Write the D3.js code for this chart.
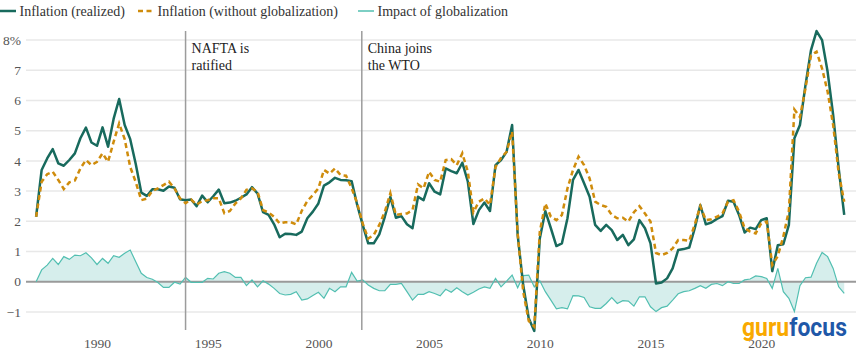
<!DOCTYPE html>
<html><head><meta charset="utf-8">
<script src="https://cdn.jsdelivr.net/npm/d3@7"></script>
<style>
html,body{margin:0;padding:0;background:#fff;}
svg{display:block;font-family:"Liberation Serif","Times New Roman",serif;}
</style></head>
<body><svg id="c" width="856" height="356"></svg>
<script>
// ---- data (quarterly, first quarter 1987 Q2) ----
const firstQuarter = 1987.25;
const realized = [2.15,3.7,4.08,4.39,3.92,3.84,4.03,4.25,4.75,5.1,4.61,4.5,5.11,4.47,5.39,6.05,5.19,4.72,3.9,2.95,
2.84,3.06,3.06,3.01,3.15,3.11,2.73,2.7,2.72,2.5,2.85,2.63,2.83,3.05,2.6,2.62,2.68,2.78,2.89,3.13,
2.92,2.3,2.21,1.9,1.47,1.59,1.58,1.55,1.66,2.1,2.32,2.59,3.18,3.29,3.44,3.37,3.36,3.33,2.55,1.88,
1.27,1.27,1.57,2.15,2.81,2.12,2.17,1.9,1.77,2.81,2.7,3.26,2.98,2.89,3.75,3.66,3.59,3.94,3.31,1.91,
2.37,2.62,2.34,3.86,4.03,4.3,5.19,1.55,-0.11,-1.21,-1.63,1.43,2.34,1.77,1.18,1.27,2.1,3.37,3.7,3.26,
2.81,1.88,1.68,1.88,1.71,1.38,1.55,1.21,1.4,2.04,1.77,1.27,-0.06,-0.03,0.11,0.44,1.05,1.08,1.13,1.77,
2.54,1.9,1.96,2.08,2.17,2.68,2.65,2.21,1.63,1.79,1.74,2.04,2.1,0.35,1.21,1.24,1.88,4.75,5.19,6.51,
7.67,8.3,8.0,6.95,5.52,3.75,2.21];
const withoutGlobalization = [2.15,3.31,3.56,3.64,3.37,3.07,3.29,3.35,3.75,4.03,3.86,3.97,4.25,3.97,4.63,5.24,4.72,3.8,3.3,2.7,
2.75,3.01,3.09,3.2,3.31,3.09,2.76,2.6,2.72,2.55,2.67,2.7,2.76,2.76,2.27,2.34,2.59,2.76,3.04,3.09,
2.98,2.37,2.29,2.15,1.93,1.97,1.97,1.9,2.35,2.67,2.87,3.09,3.7,3.58,3.75,3.53,3.51,3.1,2.6,1.93,
1.43,1.55,1.88,2.32,2.93,2.21,2.24,2.26,2.37,3.22,3.09,3.64,3.37,3.31,4.03,4.06,3.86,4.25,3.64,2.3,
2.65,2.76,2.54,3.8,4.1,4.3,4.97,1.6,-0.33,-1.3,-1.49,1.66,2.59,2.15,2.04,2.21,3.09,3.7,4.14,3.86,
3.42,2.65,2.54,2.48,2.21,2.1,2.12,1.99,2.3,2.5,2.26,1.99,0.95,0.88,0.95,1.1,1.38,1.38,1.35,1.9,
2.5,2.04,2.07,2.15,2.26,2.65,2.7,2.32,1.77,1.66,1.6,1.93,1.99,0.55,0.85,1.5,2.35,5.7,5.45,6.4,
7.5,7.62,7.06,6.29,5.19,3.6,2.65];
const impact = [0,0.39,0.55,0.77,0.57,0.83,0.74,0.88,0.86,0.96,0.79,0.57,0.77,0.61,0.86,0.81,0.94,1.05,0.66,0.28,
0.14,0.08,-0.03,-0.19,-0.19,-0.02,-0.08,0.14,-0.02,-0.02,-0.02,0.11,0.09,0.28,0.33,0.28,0.14,0.14,-0.13,0.06,
-0.17,0.03,-0.08,-0.22,-0.39,-0.44,-0.42,-0.33,-0.61,-0.57,-0.46,-0.35,-0.55,-0.22,-0.33,-0.17,-0.17,0.31,0.02,0.06,
-0.11,-0.22,-0.3,-0.3,-0.09,-0.09,-0.06,-0.33,-0.61,-0.42,-0.42,-0.33,-0.39,-0.47,-0.25,-0.35,-0.2,-0.33,-0.44,-0.35,
-0.24,-0.17,-0.22,0.11,-0.17,0.02,0.22,-0.2,0.2,0.22,-0.17,0.03,-0.33,-0.61,-0.9,-0.86,-0.9,-0.46,-0.47,-0.52,
-0.83,-0.88,-0.88,-0.72,-0.53,-0.72,-0.63,-0.64,-0.81,-0.5,-0.5,-0.83,-0.99,-0.86,-0.81,-0.61,-0.4,-0.33,-0.3,-0.22,
-0.13,-0.22,-0.09,-0.06,-0.13,0,-0.06,-0.06,0.06,0.09,0.19,0.17,0.11,-0.22,0.44,-0.33,-0.55,-0.99,-0.13,0.13,
0.15,0.61,0.97,0.83,0.44,-0.17,-0.39];
const yTicks = [-1,0,1,2,3,4,5,6,7,8];
const xTicks = [1990,1995,2000,2005,2010,2015,2020];
const events = [{year:1994.0, lines:["NAFTA is","ratified"]},{year:2001.96, lines:["China joins","the WTO"]}];
const legendItems = ["Inflation (realized)","Inflation (without globalization)","Impact of globalization"];

// ---- layout ----
const svg = d3.select("#c");
const x = d3.scaleLinear().domain([1990, 2020]).range([97, 761.2]);
const y = d3.scaleLinear().domain([-1, 8]).range([311.9, 40.1]);
const t = realized.map((_, i) => firstQuarter + i / 4);
const gridX0 = 26, gridX1 = 856;
const C = {solid:"#186a5d", dash:"#cf8c0c", imp:"#52bfb1", area:"#d6eeec", grid:"#e8e8e8", zero:"#9a9a9a", ev:"#9c9c9c"};

// gridlines
svg.append("g").selectAll("line").data(yTicks.filter(d => d !== 0)).join("line")
  .attr("x1", gridX0).attr("x2", gridX1).attr("y1", d => y(d)).attr("y2", d => y(d))
  .attr("stroke", C.grid).attr("stroke-width", 1.5);

// y labels
svg.append("g").selectAll("text").data(yTicks).join("text")
  .attr("x", 21).attr("y", d => y(d)).attr("dy", "0.35em").attr("text-anchor", "end")
  .attr("font-size", 13.5).attr("fill", "#555")
  .text(d => d === 8 ? "8%" : (d < 0 ? "\u2212" + Math.abs(d) : d));

// x labels
const xAxis = d3.axisBottom(x).tickValues(xTicks).tickFormat(d3.format("d")).tickSize(0).tickPadding(0);
const gx = svg.append("g").attr("transform", "translate(0,337)").call(xAxis);
gx.select(".domain").remove();
gx.selectAll("text").attr("font-size", 13.5).attr("fill", "#555")
  .attr("font-family", "Liberation Serif, serif").attr("dy", "0.8em");

// impact area & line
const area = d3.area().x((d, i) => x(t[i])).y0(y(0)).y1(d => y(d));
svg.append("path").datum(impact).attr("d", area).attr("fill", C.area);

// zero line
svg.append("line").attr("x1", gridX0).attr("x2", gridX1).attr("y1", y(0)).attr("y2", y(0))
  .attr("stroke", C.zero).attr("stroke-width", 2);

const line = d3.line().x((d, i) => x(t[i])).y(d => y(d));
svg.append("path").datum(impact).attr("d", line).attr("fill", "none")
  .attr("stroke", C.imp).attr("stroke-width", 1.2);

// event lines
events.forEach(e => {
  svg.append("line").attr("x1", x(e.year)).attr("x2", x(e.year)).attr("y1", 31).attr("y2", 330)
    .attr("stroke", C.ev).attr("stroke-width", 1.5);
  const tx = svg.append("text").attr("x", x(e.year) + 6).attr("y", 53).attr("font-size", 14).attr("fill", "#222");
  e.lines.forEach((l, k) => tx.append("tspan").attr("x", x(e.year) + 6).attr("y", 53 + k * 17).text(l));
});

// realized & without
svg.append("path").datum(realized).attr("d", line).attr("fill", "none")
  .attr("stroke", C.solid).attr("stroke-width", 2.5).attr("stroke-linejoin", "round");
svg.append("path").datum(withoutGlobalization).attr("d", line).attr("fill", "none")
  .attr("stroke", C.dash).attr("stroke-width", 2.5).attr("stroke-dasharray", "5,3.5");

// legend
const legX = [0, 138, 358];
const legStyles = [{c:C.solid, w:2.5, dash:null},{c:C.dash, w:2.5, dash:"5,3.5"},{c:C.imp, w:1.5, dash:null}];
legendItems.forEach((name, k) => {
  const g = svg.append("g").attr("transform", `translate(${legX[k]},0)`);
  g.append("line").attr("x1", 0).attr("x2", 16).attr("y1", 11).attr("y2", 11)
    .attr("stroke", legStyles[k].c).attr("stroke-width", legStyles[k].w)
    .attr("stroke-dasharray", legStyles[k].dash);
  g.append("text").attr("x", 19.5).attr("y", 16).attr("font-size", 14).attr("fill", "#333").text(name);
});

// logo (horizontally condensed via scale transform)
const logoG = svg.append("g");
const logo = logoG.append("text").attr("x", 0).attr("y", 0)
  .attr("font-family", "Roboto, 'Open Sans', sans-serif").attr("font-weight", "bold").attr("font-size", 25);
logo.append("tspan").attr("fill", "#f9a900").text("guru");
logo.append("tspan").attr("fill", "#1f58a8").text("focus");
const natural = logo.node().getComputedTextLength();
logoG.attr("transform", `translate(742,336) scale(${105 / natural},1)`);
</script></body></html>
